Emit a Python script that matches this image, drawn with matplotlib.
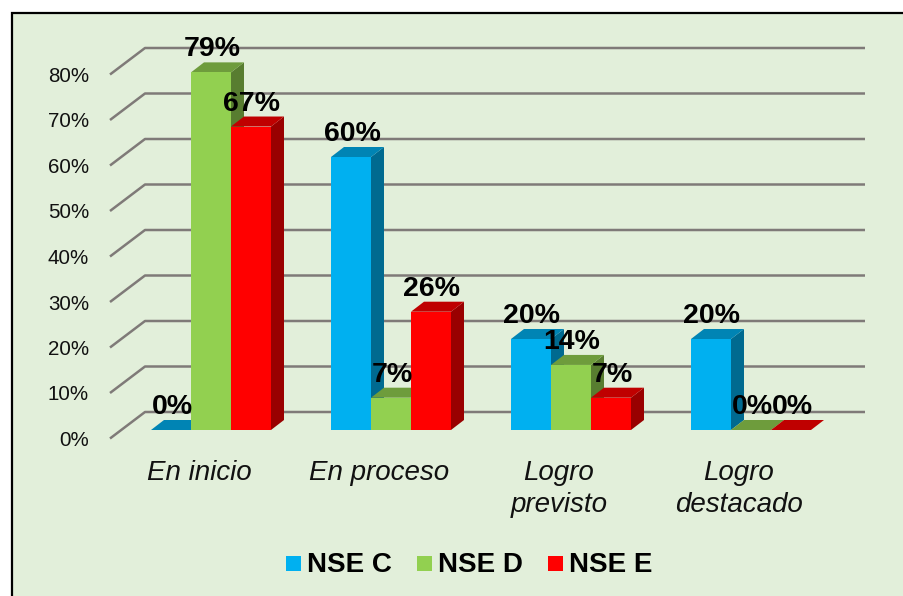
"""Pseudo-3D grouped bars: NSE levels by achievement category."""
import matplotlib
matplotlib.use("Agg")
import matplotlib.pyplot as plt
from matplotlib.patches import Polygon, Rectangle

categories = ["En inicio", "En proceso", "Logro\nprevisto", "Logro\ndestacado"]
series_names = ["NSE C", "NSE D", "NSE E"]
nse_c = [0, 60, 20, 20]
nse_d = [78.6, 7.1, 14.3, 0]
nse_e = [66.7, 26, 7.1, 0]
y_ticks = [0, 10, 20, 30, 40, 50, 60, 70, 80]

W, H = 904, 596
X_UNIT = 180.0   # px per category
Y_UNIT = 4.55    # px per percent
X0, Y0 = 211, 430  # px of first category centre / bar base
BAR_W = 40 / X_UNIT
DX, DY = 13 / X_UNIT, 10 / Y_UNIT

FRONT = ["#00B0F0", "#92D050", "#FF0000"]
TOP = ["#0084B4", "#6E9C3C", "#BF0000"]
SIDE = ["#006A90", "#587D30", "#990000"]
GRID = "#7F7A78"
BG = "#E2EFDA"

plt.rcParams["font.family"] = ["Liberation Sans", "DejaVu Sans"]

fig = plt.figure(figsize=(W / 100, H / 100), dpi=100, facecolor="white")
ax = fig.add_axes([0, 0, 1, 1])
ax.set_xlim(-X0 / X_UNIT, (W - X0) / X_UNIT)
ax.set_ylim(-(H - Y0) / Y_UNIT, Y0 / Y_UNIT)
ax.axis("off")


def px(x, y):
    return (x - X0) / X_UNIT, (Y0 - y) / Y_UNIT


# panel background, frame only on the left and top
x1, y1 = px(12, H + 5)
x2, y2 = px(W + 5, 13)
ax.add_patch(Rectangle((x1, y1), x2 - x1, y2 - y1, fc=BG, ec="none", zorder=0))
ax.plot([x1, x1, x2], [y1, y2, y2], color="black", lw=1.6, zorder=0.5, solid_joinstyle="miter")

# floor + wall gridlines
for t in y_ticks:
    xs = [(110 - X0) / X_UNIT, (145 - X0) / X_UNIT, (865 - X0) / X_UNIT]
    ys = [t - 8.5 / Y_UNIT, t + 18 / Y_UNIT, t + 18 / Y_UNIT]
    ax.plot(xs, ys, color=GRID, lw=1.8, zorder=1, solid_capstyle="butt")
    ax.text((89 - X0) / X_UNIT, t - 10.5 / Y_UNIT, f"{t}%", ha="right", va="center",
            fontsize=14.8, color="#111111", zorder=6)

# bars, left to right so later groups sit on top
for s, vals in enumerate([nse_c, nse_d, nse_e]):
    for c, v in enumerate(vals):
        left = c + (s - 1.5) * BAR_W
        right = left + BAR_W
        z = 2 + c + s * 0.1
        ax.add_patch(Polygon([(right, 0), (right + DX, DY), (right + DX, v + DY), (right, v)],
                             fc=SIDE[s], ec="none", zorder=z))
        ax.add_patch(Polygon([(left, v), (left + DX, v + DY), (right + DX, v + DY), (right, v)],
                             fc=TOP[s], ec="none", zorder=z))
        if v > 0:
            ax.add_patch(Rectangle((left, 0), BAR_W, v, fc=FRONT[s], ec="none", zorder=z))
        ax.text(left + BAR_W / 2 + 1 / X_UNIT, v + DY, f"{round(v)}%", ha="center",
                va="bottom", fontsize=20.5, fontweight="bold", color="black", zorder=10)

# category labels
for c, name in enumerate(categories):
    ax.text(c - 12 / X_UNIT, px(0, 460)[1], name, ha="center", va="top", fontsize=20,
            fontstyle="italic", color="#111111", linespacing=1.28, zorder=6)

# legend
for s, (name, lx) in enumerate(zip(series_names, [286, 417, 548])):
    xa, ya = px(lx, 571)
    xb, yb = px(lx + 15, 556)
    ax.add_patch(Rectangle((xa, ya), xb - xa, yb - ya, fc=FRONT[s], ec="none", zorder=6))
    ax.text(px(lx + 21, 0)[0], px(0, 565)[1], name, ha="left", va="center", fontsize=20,
            fontweight="bold", color="black", zorder=6)

fig.savefig("out.png", dpi=100)
plt.close(fig)
